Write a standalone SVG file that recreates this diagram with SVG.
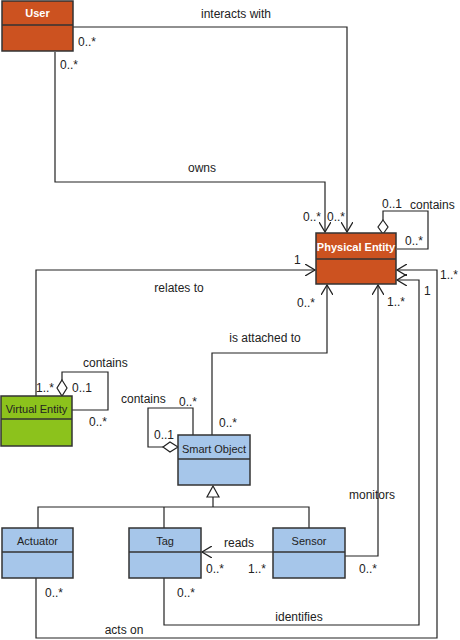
<svg xmlns="http://www.w3.org/2000/svg" width="460" height="640" viewBox="0 0 460 640">
<defs>
<marker id="open" markerWidth="12" markerHeight="12" refX="10" refY="6" orient="auto" markerUnits="userSpaceOnUse">
<path d="M0,0 L10,6 L0,12" fill="none" stroke="#222" stroke-width="1.3"/>
</marker>
</defs>
<style>
text{font-family:"Liberation Sans",Arial,sans-serif;font-size:11px;fill:#222}
#labels text{font-size:12px}
.t{fill:#fff;font-weight:bold;text-anchor:middle}
.n{text-anchor:middle}
.or{fill:#CC5220;stroke:#333;stroke-width:1.5}
.gr{fill:#8CC21C;stroke:#333;stroke-width:1.5}
.bl{fill:#A6C6EA;stroke:#333;stroke-width:1.5}
.c{fill:none;stroke:#222;stroke-width:1.2}
.a{fill:none;stroke:#222;stroke-width:1.2;marker-end:url(#open)}
.d{fill:#fff;stroke:#222;stroke-width:1.2}
</style>
<g id="connectors">
<polyline class="a" points="73,27 347,27 347,232"/>
<polyline class="a" points="55,52 55,182 325,182 325,232"/>
<polyline class="c" points="383,220 383,211 428,211 428,249 397,249"/>
<path class="d" d="M383,220 L388,227 L383,234 L378,227 Z"/>
<polyline class="a" points="36,396 36,270 315,270"/>
<polyline class="a" points="212,435 212,353 327,353 327,285"/>
<polyline class="c" points="62,380 62,372 108,372 108,410 72,410"/>
<path class="d" d="M62,380 L67,388 L62,396 L57,388 Z"/>
<polyline class="c" points="163,447 148,447 148,408 193,408 193,435"/>
<path class="d" d="M163,447 L170,442 L178,447 L170,452 Z"/>
<polyline class="c" points="38,528 38,507 309,507 309,528"/>
<line class="c" x1="164" y1="507" x2="164" y2="528"/>
<line class="c" x1="213" y1="507" x2="213" y2="497"/>
<path class="d" d="M213,486 L219,497 L207,497 Z"/>
<line class="a" x1="273" y1="552" x2="202" y2="552"/>
<polyline class="a" points="345,556 378,556 378,285"/>
<polyline class="a" points="164,578 164,625 419,625 419,280 397,280"/>
<polyline class="a" points="36,578 36,638 437,638 437,270 397,270"/>
</g>
<g id="user">
<rect class="or" x="2" y="1" width="71" height="50"/>
<line x1="2" y1="25" x2="73" y2="25" stroke="#333" stroke-width="1.5"/>
<text class="t" x="37.5" y="17">User</text>
</g>
<g id="physical-entity">
<rect class="or" x="316" y="233" width="80" height="51"/>
<line x1="316" y1="259" x2="396" y2="259" stroke="#333" stroke-width="1.5"/>
<text class="t" x="356" y="251">Physical Entity</text>
</g>
<g id="virtual-entity">
<rect class="gr" x="1" y="396" width="71" height="50"/>
<line x1="1" y1="419" x2="72" y2="419" stroke="#333" stroke-width="1.5"/>
<text class="n" x="36.5" y="413">Virtual Entity</text>
</g>
<g id="smart-object">
<rect class="bl" x="178" y="435" width="72" height="50"/>
<line x1="178" y1="459" x2="250" y2="459" stroke="#333" stroke-width="1.5"/>
<text class="n" x="214" y="453">Smart Object</text>
</g>
<g id="actuator">
<rect class="bl" x="2" y="528" width="71" height="50"/>
<line x1="2" y1="552" x2="73" y2="552" stroke="#333" stroke-width="1.5"/>
<text class="n" x="37.5" y="545">Actuator</text>
</g>
<g id="tag">
<rect class="bl" x="129" y="528" width="72" height="50"/>
<line x1="129" y1="552" x2="201" y2="552" stroke="#333" stroke-width="1.5"/>
<text class="n" x="165" y="545">Tag</text>
</g>
<g id="sensor">
<rect class="bl" x="273" y="528" width="72" height="50"/>
<line x1="273" y1="552" x2="345" y2="552" stroke="#333" stroke-width="1.5"/>
<text class="n" x="309" y="545">Sensor</text>
</g>
<g id="labels">
<text class="n" x="236" y="18">interacts with</text>
<text x="78" y="46">0..*</text>
<text x="60" y="69">0..*</text>
<text class="n" x="202" y="172">owns</text>
<text x="303" y="221">0..*</text>
<text x="327" y="221">0..*</text>
<text x="382" y="208">0..1</text>
<text x="410" y="209">contains</text>
<text x="405" y="245">0..*</text>
<text x="294" y="264">1</text>
<text class="n" x="179" y="292">relates to</text>
<text x="297" y="307">0..*</text>
<text class="n" x="265" y="342">is attached to</text>
<text x="440" y="279">1..*</text>
<text x="424" y="295">1</text>
<text x="387" y="306">1..*</text>
<text x="83" y="367">contains</text>
<text x="36" y="392">1..*</text>
<text x="72" y="392">0..1</text>
<text x="89" y="426">0..*</text>
<text x="121" y="403">contains</text>
<text x="179" y="406">0..*</text>
<text x="219" y="427">0..*</text>
<text x="154" y="439">0..1</text>
<text class="n" x="372" y="499">monitors</text>
<text class="n" x="239" y="547">reads</text>
<text x="206" y="573">0..*</text>
<text x="248" y="573">1..*</text>
<text x="359" y="573">0..*</text>
<text x="45" y="597">0..*</text>
<text x="177" y="597">0..*</text>
<text class="n" x="299" y="621">identifies</text>
<text class="n" x="124" y="634">acts on</text>
</g>
</svg>
